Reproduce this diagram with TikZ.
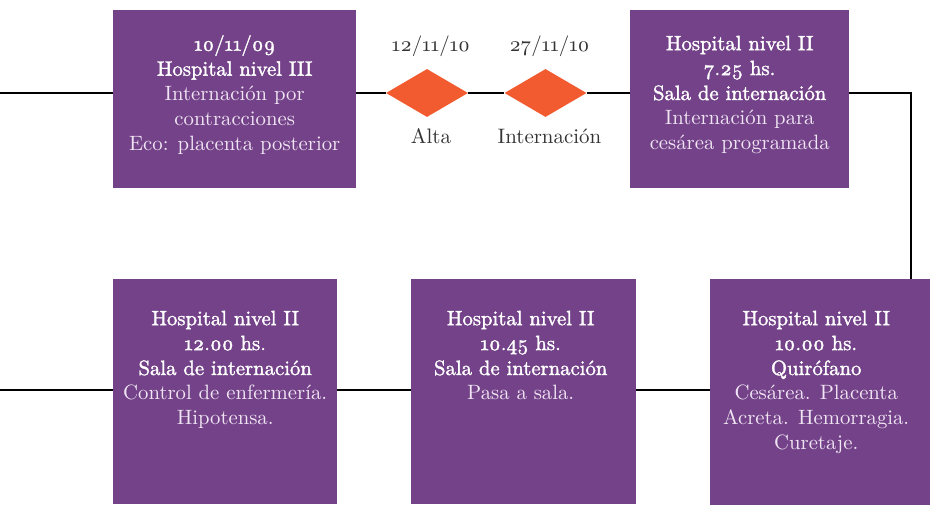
\documentclass[tikz,border=0pt]{standalone}
\usepackage{fontspec}
\setmainfont{lmroman10-regular}[Extension=.otf, BoldFont=lmroman10-regular, BoldFeatures={FakeBold=1.6}, Numbers=OldStyle]
\usetikzlibrary{shapes.geometric}
\definecolor{purp}{HTML}{744289}
\definecolor{orng}{HTML}{F25A30}
\definecolor{lav}{HTML}{F0E6F3}
\definecolor{lblc}{HTML}{333333}
\newcommand\hd[1]{\textcolor{white}{\textbf{#1}}}
\newcommand\fst{\rule{0pt}{15bp}}
\begin{document}
\begin{tikzpicture}[x=1bp,y=-1bp,
 box/.style={fill=purp, draw=none, inner sep=0, anchor=north west},
 btxt/.style={anchor=north, align=center, text=lav, font=\fontsize{20.8}{25}\selectfont, inner sep=0},
 dia/.style={diamond, fill=orng, draw=none, inner sep=0, minimum width=82bp, minimum height=48bp},
 lbl/.style={text=lblc, font=\fontsize{21}{25}\selectfont, anchor=base, inner sep=0},
 conn/.style={draw=black, line width=1.2bp}]
\useasboundingbox (0,0) rectangle (930,505);
% boxes
\node[box, minimum width=243bp, minimum height=178bp] (b1) at (113,10) {};
\node[box, minimum width=219bp, minimum height=178bp] (b2) at (630,10) {};
\node[box, minimum width=224bp, minimum height=225bp] (b3) at (113,279) {};
\node[box, minimum width=225bp, minimum height=225bp] (b4) at (411,279) {};
\node[box, minimum width=220bp, minimum height=226bp] (b5) at (710,279) {};
% diamonds
\node[dia] (d1) at (427,93) {};
\node[dia] (d2) at (545.5,93) {};
% texts
\node[btxt] (t1) at ([yshift=-25bp]b1.north) {\fst\hd{10/11/09}\\ \hd{Hospital nivel III}\\ Internación por\\ contracciones\\ Eco: placenta posterior};
\node[btxt] (t2) at ([yshift=-25bp]b2.north) {\fst\hd{Hospital nivel II}\\ \hd{7.25 hs.}\\ \hd{Sala de internación}\\ Internación para\\ cesárea programada};
\node[btxt] (t3) at ([yshift=-31bp]b3.north) {\fst\hd{Hospital nivel II}\\ \hd{12.00 hs.}\\ \hd{Sala de internación}\\ Control de enfermería.\\ Hipotensa.};
\node[btxt] (t4) at ([xshift=-3bp,yshift=-31bp]b4.north) {\fst\hd{Hospital nivel II}\\ \hd{10.45 hs.}\\ \hd{Sala de internación}\\ Pasa a sala.};
\node[btxt] (t5) at ([xshift=-4bp,yshift=-31bp]b5.north) {\fst\hd{Hospital nivel II}\\ \hd{10.00 hs.}\\ \hd{Quirófano}\\ Cesárea. Placenta\\ Acreta. Hemorragia.\\ Curetaje.};
% labels
\node[lbl] (l1) at ([xshift=4bp,yshift=41bp]d1.center) {12/11/10};
\node[lbl] (l2) at ([xshift=4bp,yshift=41bp]d2.center) {27/11/10};
\node[lbl] (l3) at ([xshift=4bp,yshift=-51bp]d1.center) {Alta};
\node[lbl] (l4) at ([xshift=4bp,yshift=-51bp]d2.center) {Internación};
% connectors
\coordinate (L1) at (0,93);
\coordinate (R1) at (911,93);
\coordinate (L2) at (0,390);
\draw[conn] (L1) -- (L1 -| b1.west);
\draw[conn] (L1 -| b1.east) -- (d1.west);
\draw[conn] (d1.east) -- (d2.west);
\draw[conn] (d2.east) -- (L1 -| b2.west);
\draw[conn] (L1 -| b2.east) -- (R1) -- (R1 |- b5.north);
\draw[conn] (L2) -- (L2 -| b3.west);
\draw[conn] (L2 -| b3.east) -- (L2 -| b4.west);
\draw[conn] (L2 -| b4.east) -- (L2 -| b5.west);
\end{tikzpicture}
\end{document}
